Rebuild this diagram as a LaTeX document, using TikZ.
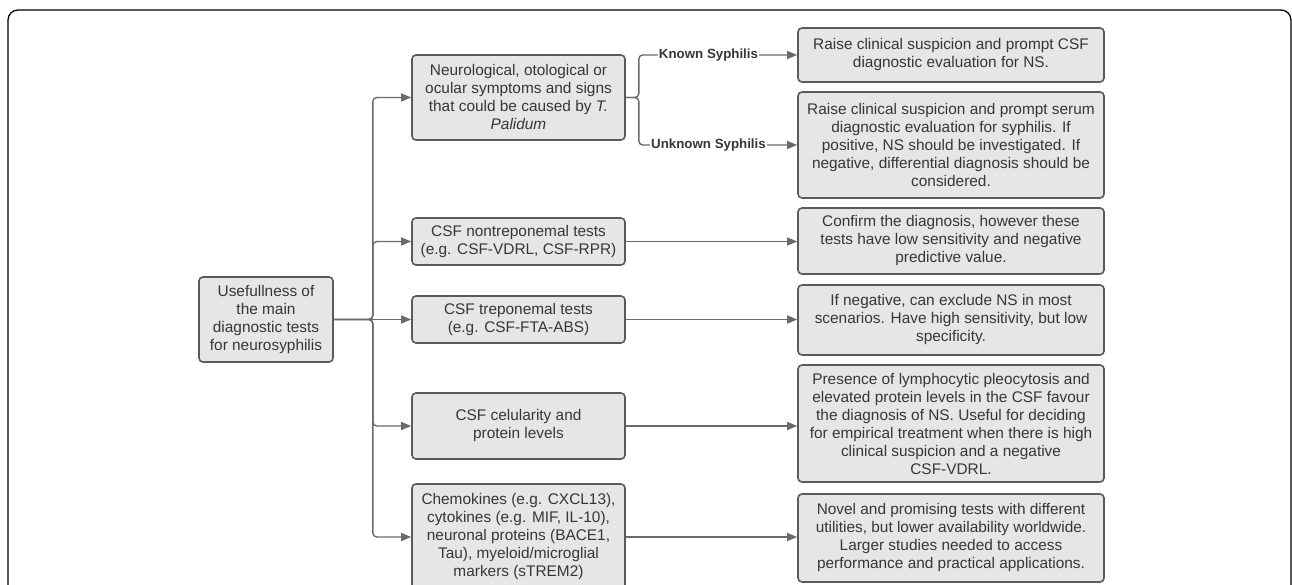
\documentclass[tikz,border=0pt]{standalone}
\usepackage{fontspec}
\setmainfont{Liberation Sans}
\usepackage{xcolor}
\usetikzlibrary{arrows.meta, positioning, calc}
\definecolor{boxfill}{HTML}{E6E6E6}
\definecolor{boxline}{HTML}{5A5A5A}
\definecolor{txtgray}{HTML}{363636}
\definecolor{arrgray}{HTML}{6A6A6A}
\tikzset{
  flowbox/.style={draw=boxline, line width=1.6pt, rounded corners=4pt, fill=boxfill,
                  align=center, text=txtgray, inner sep=2pt,
                  font=\fontsize{15.4}{18}\selectfont},
  rootbox/.style={flowbox, minimum width=134pt},
  testbox/.style={flowbox, minimum width=213pt},
  resultbox/.style={flowbox, minimum width=306pt},
  flowarrow/.style={-{Triangle[length=10pt, width=8pt]}, line width=1.4pt, arrgray},
  branchlabel/.style={font=\fontsize{13.3}{15}\selectfont\bfseries, text=txtgray,
                      fill=white, inner sep=1pt}
}
\begin{document}
\begin{tikzpicture}[x=1pt, y=-1pt]
\useasboundingbox (0,0) rectangle (1292,585);

% Outer frame
\draw[black, line width=1.3pt, rounded corners=10pt] (8,10) rectangle (1291,640);

% Root
\node[rootbox, minimum height=85pt] (root) at (266,319.5)
  {Usefullness of\\the main\\diagnostic tests\\for neurosyphilis};

% Tests
\node[testbox, minimum height=85pt] (neuro) at (518.5,97.5)
  {Neurological, otological or\\ocular symptoms and signs\\that could be caused by \textit{T.}\\\textit{Palidum}};
\node[testbox, minimum height=47pt] (nontrep) at (518.5,241.5)
  {CSF nontreponemal tests\\(e.g. CSF-VDRL, CSF-RPR)};
\node[testbox, minimum height=47pt] (trep) at (518.5,319.5)
  {CSF treponemal tests\\(e.g. CSF-FTA-ABS)};
\node[testbox, minimum height=66pt] (cell) at (518.5,426)
  {CSF celularity and\\protein levels};
\node[testbox, minimum height=106pt] (chemo) at (518.5,537)
  {Chemokines (e.g. CXCL13),\\cytokines (e.g. MIF, IL-10),\\neuronal proteins (BACE1,\\Tau), myeloid/microglial\\markers (sTREM2)};

% Results
\node[resultbox, minimum height=54pt] (known) at (951,55)
  {Raise clinical suspicion and prompt CSF\\diagnostic evaluation for NS.};
\node[resultbox, minimum height=106pt] (unknown) at (951,145)
  {Raise clinical suspicion and prompt serum\\diagnostic evaluation for syphilis. If\\positive, NS should be investigated. If\\negative, differential diagnosis should be\\considered.};
\node[resultbox, minimum height=66pt] (confirm) at (951,241)
  {Confirm the diagnosis, however these\\tests have low sensitivity and negative\\predictive value.};
\node[resultbox, minimum height=70pt] (exclude) at (951,320)
  {If negative, can exclude NS in most\\scenarios. Have high sensitivity, but low\\specificity.};
\node[resultbox, minimum height=117pt] (favour) at (951,423.5)
  {Presence of lymphocytic pleocytosis and\\elevated protein levels in the CSF favour\\the diagnosis of NS. Useful for deciding\\for empirical treatment when there is high\\clinical suspicion and a negative\\CSF-VDRL.};
\node[resultbox, minimum height=88pt] (novel) at (951,538)
  {Novel and promising tests with different\\utilities, but lower availability worldwide.\\Larger studies needed to access\\performance and practical applications.};

% Trunk
\coordinate (trunk) at ($(root.east)+(39,0)$);
\draw[flowarrow] (root.east) -- (trep.west);
\foreach \t in {neuro, nontrep, cell, chemo}
  \draw[flowarrow, rounded corners=4pt] (root.east) -- (trunk) |- (\t.west);

% Syphilis branches
\coordinate (fork) at ($(neuro.east)+(13,0)$);
\draw[flowarrow, rounded corners=4pt] (neuro.east) -- (fork) |-
  node[branchlabel, pos=0.72] {Known Syphilis} (known.west);
\draw[flowarrow, rounded corners=4pt] (neuro.east) -- (fork) |-
  node[branchlabel, pos=0.72] {Unknown Syphilis} (unknown.west);

% Test to result
\draw[flowarrow] (nontrep.east) -- (nontrep.east -| confirm.west);
\draw[flowarrow] (trep.east) -- (trep.east -| exclude.west);
\draw[flowarrow] (cell.east) -- (cell.east -| favour.west);
\draw[flowarrow] (chemo.east) -- (chemo.east -| novel.west);

\end{tikzpicture}
\end{document}
